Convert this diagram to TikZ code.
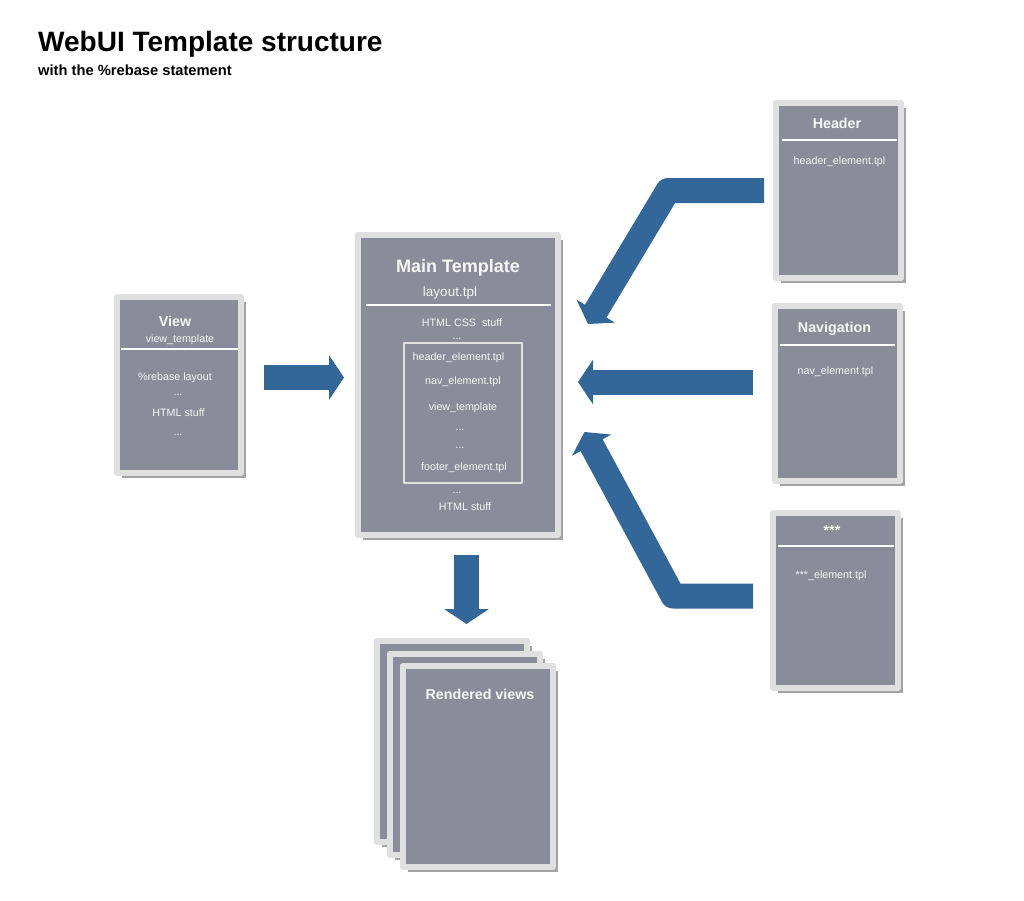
\documentclass[tikz,border=0pt]{standalone}
\usepackage{fontspec}
\setmainfont{Liberation Sans}
\usetikzlibrary{arrows.meta, calc, shadows}
\definecolor{panelgray}{HTML}{8A8D99}
\definecolor{framegray}{HTML}{DFE0DF}
\definecolor{flowblue}{HTML}{336699}
\definecolor{labelwhite}{HTML}{F6F6F6}
\newcommand{\pxsize}[1]{\fontsize{#1}{#1}\selectfont}

\begin{document}
\begin{tikzpicture}[x=1pt, y=1pt, line join=round,
	panel/.style={draw=framegray, line width=6pt, fill=panelgray, inner sep=0pt, outer sep=0pt,
		drop shadow={shadow xshift=5pt, shadow yshift=-5pt, fill=black!65, opacity=.55}},
	lbl/.style={inner sep=0pt, text depth=0pt, text=labelwhite},
	heading/.style={lbl, text height=10pt, font=\bfseries\pxsize{14.3}},
	entry/.style={lbl, text height=7.5pt, font=\pxsize{10.7}},
	rule/.style={draw=white, line width=1.2pt},
	flow/.style={draw=flowblue, line width=25pt, -{Triangle[width=44pt, length=15pt]}}]
	
	\useasboundingbox (0,0) rectangle (1024,-900);
	
	%========================
	% Title
	%========================
	\node[anchor=west, inner sep=0pt, text height=19.8pt, text depth=0pt, font=\bfseries\pxsize{28}] (title) at (38,-42) {WebUI Template structure};
	\node[anchor=west, inner sep=0pt, text height=10.3pt, text depth=0pt, font=\bfseries\pxsize{14.7}] (subtitle) at (38,-70) {with the \%rebase statement};
	
	%========================
	% Left: view
	%========================
	\begin{scope}
		\node[panel, minimum width=124pt, minimum height=176pt] (view) at (179,-385) {};
		\node[heading] (viewtitle) at (175,-321) {View};
		\node[entry] (viewname) at (180,-339) {view\_template};
		\draw[rule] (121,-349) -- (238,-349);
		\node[entry] (rebase) at (175,-377) {\%rebase layout};
		\node[entry] (viewdots) at (178,-392) {...};
		\node[entry] (viewhtml) at (178.5,-413) {HTML stuff};
		\node[entry] (viewdotsb) at (178,-432) {...};
	\end{scope}
	
	%========================
	% Middle: main template
	%========================
	\begin{scope}
		\node[panel, minimum width=200pt, minimum height=300pt] (main) at (458,-385) {};
		\node[lbl, text height=12.6pt, font=\bfseries\pxsize{18}] (maintitle) at (458,-266) {Main Template};
		\node[lbl, text height=9.5pt, font=\pxsize{13.5}] (layout) at (450,-292) {layout.tpl};
		\draw[rule] (366,-305) -- (551,-305);
		\node[entry] (css) at (462,-323) {HTML CSS\ \ stuff};
		\node[entry] (cssdots) at (457,-336) {...};
		% slots filled by the elements
		\node[draw=framegray, line width=1.6pt, minimum width=118pt, minimum height=140pt] (slots) at (463,-413) {};
		\node[entry] (slothead) at (458.5,-357) {header\_element.tpl};
		\node[entry] (slotnav) at (463,-381) {nav\_element.tpl};
		\node[entry] (slotview) at (463,-407) {view\_template};
		\node[entry] (slotdots) at (460,-427) {...};
		\node[entry] (slotdotsb) at (460,-445) {...};
		\node[entry] (slotfoot) at (464,-467) {footer\_element.tpl};
		\node[entry] (maindots) at (457,-490) {...};
		\node[entry] (mainhtml) at (465,-507) {HTML stuff};
	\end{scope}
	
	%========================
	% Right: elements
	%========================
	\begin{scope}
		\node[panel, minimum width=125pt, minimum height=175pt] (header) at (838.5,-190.5) {};
		\node[heading] (headertitle) at (837,-123) {Header};
		\draw[rule] (782,-140) -- (897,-140);
		\node[entry] (headerfile) at (839.5,-161) {header\_element.tpl};
		
		\node[panel, minimum width=125pt, minimum height=175pt] (nav) at (837.5,-393.5) {};
		\node[heading] (navtitle) at (834.5,-327) {Navigation};
		\draw[rule] (780,-345) -- (895,-345);
		\node[entry] (navfile) at (835.5,-371) {nav\_element.tpl};
		
		\node[panel, minimum width=125pt, minimum height=175pt] (stars) at (835.5,-600.5) {};
		\node[heading] (starstitle) at (832,-530) {***};
		\draw[rule] (778,-546) -- (894,-546);
		\node[entry] (starsfile) at (831,-575) {***\_element.tpl};
	\end{scope}
	
	%========================
	% Bottom: rendered views
	%========================
	\node[panel, minimum width=150pt, minimum height=201pt] (rend1) at (451.5,-741.5) {};
	\node[panel, minimum width=150pt, minimum height=201pt] (rend2) at (464.5,-754) {};
	\node[panel, minimum width=150pt, minimum height=201pt] (rend3) at (477.5,-766.5) {};
	\node[heading] (rendtitle) at (480,-694) {Rendered views};
	
	% arrows
	\draw[flow] ($(view.east)+(23,7.5)$) -- ($(main.west)+(-14,7.5)$);
	\draw[flow] ($(main.south)+(8.5,-20)$) -- ($(rend1.north)+(15,17)$);
	\draw[flow] ($(nav.west)+(-22,11.5)$) -- ($(main.east)+(20,3)$);
	\draw[flow] ($(header.west)+(-12,0)$) -- ++(-96,0) -- ($(main.east)+(30,61)$);
	\draw[flow] ($(stars.west)+(-20,4.5)$) -- ++(-80,0) -- ($(main.east)+(26.5,-47)$);
	
\end{tikzpicture}
\end{document}
